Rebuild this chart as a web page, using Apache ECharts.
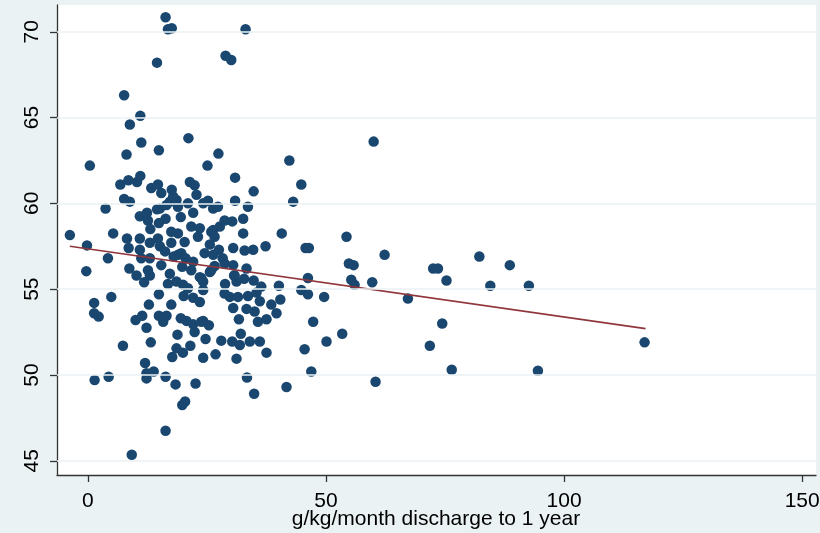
<!DOCTYPE html>
<html>
<head>
<meta charset="utf-8">
<script src="https://cdn.jsdelivr.net/npm/echarts@6/dist/echarts.min.js"></script>
<style>html,body{margin:0;padding:0;background:#EAF2F3;}#c{width:820px;height:533px;}</style>
</head>
<body>
<div id="c"></div>
<script>
// scatter points: [g/kg/month discharge to 1 year, outcome]
const points = [
[16.3,70.85],[16.8,70.15],[17.6,70.2],[33.1,70.15],[14.5,68.2],[28.9,68.6],[30.1,68.35],[7.6,66.3],[11.0,65.1],[8.8,64.6],
[21.1,63.8],[11.2,63.55],[14.9,63.1],[60.0,63.6],[0.4,62.2],[8.1,62.85],[27.4,62.9],[25.1,62.2],[42.3,62.5],[44.8,61.1],
[43.1,60.1],[30.9,61.5],[34.8,60.7],[30.9,60.15],[33.6,59.8],[3.7,59.7],[-3.8,58.15],[-0.2,57.55],[5.3,58.25],[4.2,56.8],
[40.7,58.25],[37.3,57.5],[34.7,57.3],[32.9,57.25],[32.6,58.25],[32.6,59.1],[54.3,58.05],[45.7,57.4],[46.4,57.4],[62.3,57.0],
[54.8,56.5],[55.8,56.4],[72.5,56.2],[73.5,56.2],[82.2,56.9],[88.6,56.4],[75.3,55.5],[84.5,55.2],[92.6,55.2],[59.7,55.4],
[67.2,54.45],[74.4,53.0],[71.8,51.7],[76.4,50.3],[94.5,50.25],[116.9,51.9],[60.4,49.6],
[-0.35,56.05],[1.3,54.2],[1.3,53.6],[2.25,53.4],[4.9,54.55],[1.4,49.7],[4.35,49.9],[7.35,51.7],[9.2,45.35],[16.3,46.75],
[8.7,56.2],[10.2,55.8],[11.8,55.4],[12.6,56.1],[13.0,55.8],[14.9,54.7],[12.8,54.1],[10.0,53.2],[11.4,53.45],[12.3,52.75],
[13.2,51.9],[12.0,50.7],[12.3,50.1],[12.3,49.8],[13.8,50.2],[16.3,49.9],[18.4,49.45],[19.8,48.25],[20.4,48.45],[22.6,49.5],
[14.9,53.45],[15.8,53.1],[16.5,53.45],[17.5,54.1],[18.8,52.35],[17.7,51.05],[18.6,51.55],[19.95,51.3],[21.5,51.7],[19.5,53.3],
[20.7,53.15],[22.1,52.95],[22.4,52.5],[24.2,53.15],[25.4,52.9],[24.7,52.1],[24.2,51.0],[26.8,51.2],[28.0,52.0],[30.3,51.95],
[31.2,50.95],[31.9,51.75],[32.1,52.4],[31.7,53.25],[30.5,53.9],[33.4,49.85],[34.9,48.9],[34.0,51.95],[36.1,51.95],[37.5,51.3],
[33.3,53.85],[35.0,53.7],[35.7,53.1],[37.5,53.25],[39.6,53.6],[38.5,54.1],[36.1,54.3],[40.4,54.4],[41.7,49.3],[40.1,55.2],
[36.4,55.15],[35.4,54.8],[33.6,54.6],[34.8,55.5],[32.8,55.6],[31.5,54.55],[29.8,54.55],[28.7,54.75],[28.8,55.3],[31.2,55.45],
[30.7,55.8],[33.3,56.2],[44.8,54.95],[46.2,54.7],[46.2,55.65],[47.3,53.1],[45.5,51.5],[46.9,50.2],[49.6,54.55],[50.1,51.95],
[53.4,52.4],[55.3,55.55],[56.0,55.25],
[6.8,61.1],[8.5,61.35],[10.3,61.25],[11.0,61.6],[13.3,60.9],[14.7,61.1],[15.4,60.6],[17.6,60.8],[17.9,60.4],[21.4,61.25],
[22.4,61.05],[22.8,60.5],[7.6,60.25],[8.8,60.1],[17.2,60.1],[18.6,60.2],[15.1,59.7],[16.5,59.9],[18.9,59.8],[21.0,60.0],
[24.2,60.0],[25.2,60.15],[26.3,59.7],[27.3,59.8],[10.9,59.25],[12.4,59.45],[12.6,59.0],[14.5,59.65],[16.3,59.1],[14.9,58.85],
[19.5,59.2],[22.1,59.45],[13.1,58.5],[8.2,57.95],[10.9,57.95],[8.55,57.4],[10.9,57.3],[13.0,57.7],[14.7,57.95],[15.1,57.5],
[17.5,58.35],[18.9,58.25],[17.5,57.7],[20.3,57.75],[21.7,58.65],[23.5,58.55],[23.1,58.05],[25.9,58.35],[25.6,57.6],[26.6,58.05],
[11.2,56.8],[13.0,56.8],[15.4,56.4],[17.2,55.9],[18.9,57.0],[19.6,57.1],[19.8,56.3],[21.7,56.1],[22.1,56.6],[24.5,57.1],
[26.3,57.0],[23.5,55.7],[25.9,56.1],
[28.7,59.0],[30.3,58.95],[27.7,58.65],[26.3,58.45],[30.5,57.4],[28.3,56.8],[28.7,56.5],[30.5,56.4],[26.6,56.35],[25.6,56.0],
[30.8,55.8],
[16.8,55.3],[18.6,55.45],[20.0,55.25],[21.0,55.05],[20.1,54.6],[22.1,54.5],[23.5,54.25],[24.2,54.95],[24.2,55.45],[23.8,55.65],
[23.8,53.1],[18.0,56.9],[20.5,56.8],[16.2,57.2],[27.5,57.3]
];
// fitted line endpoints
const fitLine = [[-3.8, 57.5], [117.1, 52.7]];
const xTicks = [0, 50, 100, 150];
const yTicks = [45, 50, 55, 60, 65, 70];
const xTitle = 'g/kg/month discharge to 1 year';

const chart = echarts.init(document.getElementById('c'), null, {renderer: 'canvas'});
const font = 'Liberation Sans, Arial, sans-serif';
chart.setOption({
  backgroundColor: '#EAF2F3',
  animation: false,
  title: {
    text: xTitle, left: 436, top: 509, textAlign: 'center', padding: 0,
    textStyle: {fontFamily: font, fontSize: 21, fontWeight: 'normal', color: '#000'}
  },
  grid: {left: 57, right: 4, top: 5, bottom: 58, show: true, backgroundColor: '#ffffff', borderWidth: 0,
         containLabel: false, outerBoundsMode: 'none'},
  xAxis: {
    type: 'value', min: -6.5, max: 152.9,
    axisLine: {show: true, onZero: false, lineStyle: {color: '#333', width: 1.3}},
    axisTick: {show: true, length: 7, customValues: xTicks, lineStyle: {color: '#333', width: 1.3}},
    axisLabel: {customValues: xTicks, fontFamily: font, fontSize: 21, color: '#000', margin: 16},
    splitLine: {show: false}
  },
  yAxis: {
    type: 'value', min: 44.17, max: 71.56,
    axisLine: {show: true, onZero: false, lineStyle: {color: '#333', width: 1.3}},
    axisTick: {show: true, length: 7, customValues: yTicks, lineStyle: {color: '#333', width: 1.3}},
    axisLabel: {customValues: yTicks, rotate: 90, fontFamily: font, fontSize: 21, color: '#000', margin: 14},
    splitLine: {show: false}
  },
  series: [
    {
      type: 'scatter', data: points, symbolSize: 10.5,
      itemStyle: {color: '#1A476F', opacity: 1},
      markLine: {
        silent: true, symbol: 'none', label: {show: false},
        lineStyle: {color: '#EAF2F3', width: 1.5, type: 'solid'},
        data: yTicks.map(v => ({yAxis: v}))
      },
      z: 2
    },
    {
      type: 'line', data: fitLine, showSymbol: false, symbol: 'none',
      lineStyle: {color: '#90353B', width: 1.6}, z: 3
    }
  ]
});
</script>
</body>
</html>
